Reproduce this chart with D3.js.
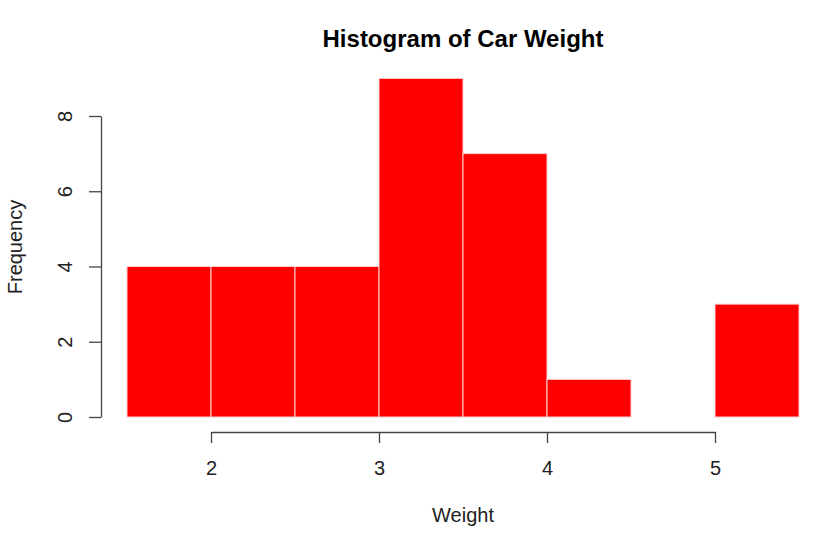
<!DOCTYPE html>
<html><head><meta charset="utf-8">
<script src="https://cdn.jsdelivr.net/npm/d3@7"></script>
<style>body{margin:0;background:#fff}svg{display:block}text{font-family:"Liberation Sans",Arial,sans-serif}</style>
</head><body>
<svg id="c" width="834" height="543"></svg>
<script>
const binStarts = [1.5,2.0,2.5,3.0,3.5,4.0,4.5,5.0];
const binWidth = 0.5;
const counts = [4,4,4,9,7,1,0,3];
const xTicks = [2,3,4,5];
const yTicks = [0,2,4,6,8];
const title = "Histogram of Car Weight";
const xLabel = "Weight";
const yLabel = "Frequency";

const svg = d3.select("#c");
const x = d3.scaleLinear().domain([2,5]).range([211,715]);
const y = d3.scaleLinear().domain([0,8]).range([417,116]);

svg.append("g").selectAll("rect").data(binStarts).join("rect")
  .attr("x", (d)=>x(d))
  .attr("width", (d)=>x(d+binWidth)-x(d))
  .attr("y", (d,i)=>y(counts[i]))
  .attr("height", (d,i)=>y(0)-y(counts[i]))
  .attr("fill","#ff0000")
  .attr("stroke", (d,i)=>counts[i]>0?"#ffd0d0":"none")
  .attr("stroke-width",1);

const ax = svg.append("g").attr("transform","translate(0,432)")
  .call(d3.axisBottom(x).tickValues(xTicks).tickSize(11).tickSizeOuter(0).tickPadding(14).tickFormat(d3.format("d")));
const ay = svg.append("g").attr("transform","translate(101,0)")
  .call(d3.axisLeft(y).tickValues(yTicks).tickSize(12).tickSizeOuter(0).tickPadding(0).tickFormat(d3.format("d")));
[ax,ay].forEach(g=>{
  g.attr("font-size",20).attr("font-family","Liberation Sans, Arial, sans-serif");
  g.select(".domain").attr("stroke","#444").attr("stroke-width",1.3);
  g.selectAll(".tick line").attr("stroke","#444").attr("stroke-width",1.3);
  g.selectAll("text").attr("fill","#222");
});
ax.selectAll(".tick text").attr("dy",null).attr("y",43);
ay.selectAll(".tick text").attr("x",null).attr("dy",null)
  .attr("text-anchor","middle")
  .attr("transform","translate(-29,0) rotate(-90)");

svg.append("text").attr("x",463).attr("y",47).attr("text-anchor","middle")
  .attr("font-weight","bold").attr("font-size",24).attr("fill","#000").text(title);
svg.append("text").attr("x",463).attr("y",522).attr("text-anchor","middle")
  .attr("font-size",20).attr("fill","#222").text(xLabel);
svg.append("text").attr("transform","translate(22,247) rotate(-90)").attr("text-anchor","middle")
  .attr("font-size",20).attr("fill","#222").text(yLabel);
</script>
</body></html>
